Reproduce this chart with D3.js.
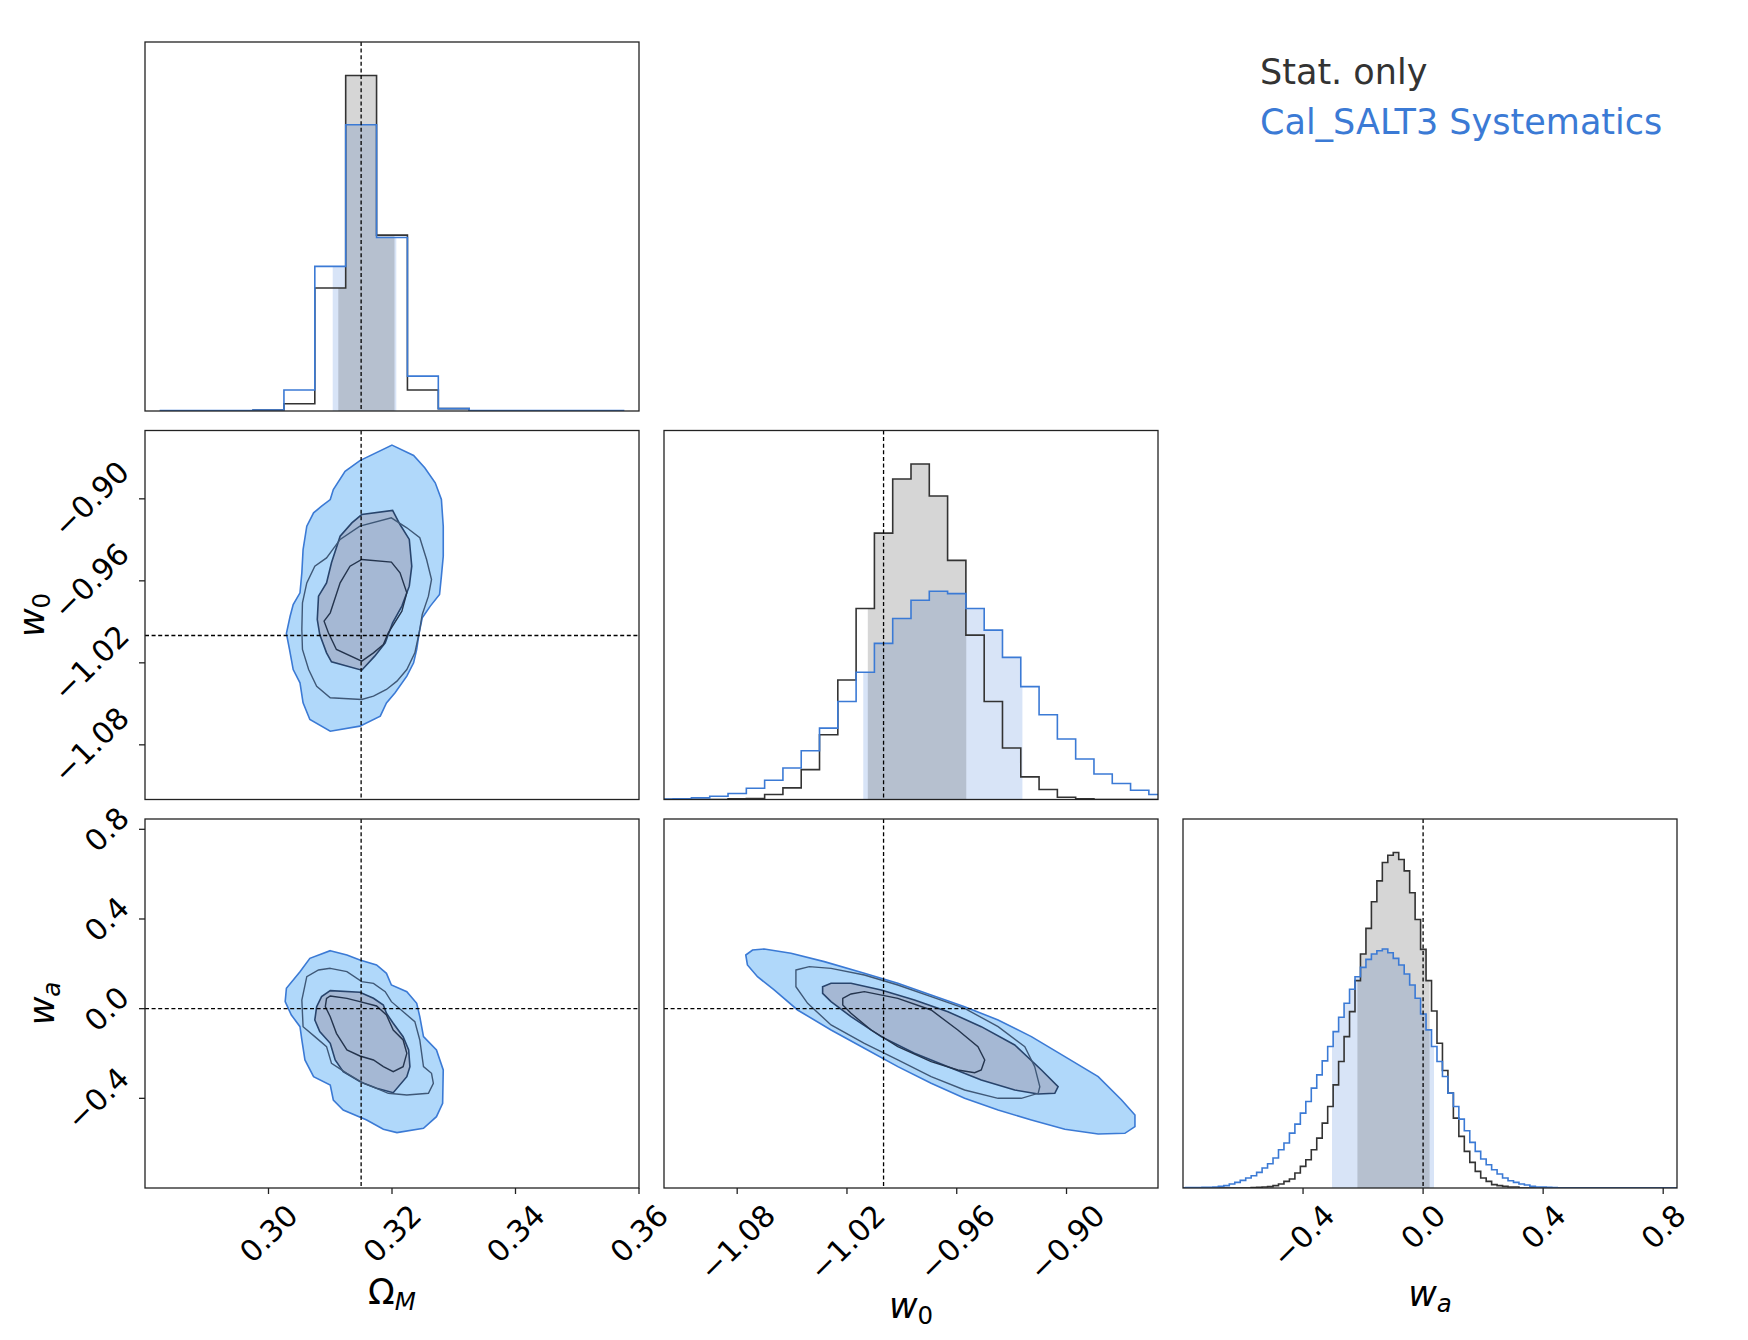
<!DOCTYPE html>
<html>
<head>
  <meta charset="utf-8">
  <title>corner</title>
  <script src="https://d3js.org/d3.v7.min.js"></script>
  <style>
    body { margin: 0; background: #fff; }
    text { font-family: "DejaVu Sans", sans-serif; }
  </style>
</head>
<body>
  <svg width="1748" height="1340" id="mainsvg"></svg>
  <script>
    // axis ranges and true values (Omega_M, w0, wa)
    const omRange = [0.28, 0.36];
    const w0Range = [-1.12, -0.85];
    const waRange = [-0.80, 0.846];
    const truth = [0.315, -1.0, 0.0];

    const omTicks = [0.30, 0.32, 0.34, 0.36];
    const w0Ticks = [-1.08, -1.02, -0.96, -0.90];
    const waTicks = [-0.4, 0.0, 0.4, 0.8];

    const legendNames = ['Stat. only', 'Cal_SALT3 Systematics'];

    // 1D histograms (relative heights), bins = start + k*width
    const omBins = [0.2825, 0.005];
    const omStat = [0, 0, 0, 3, 22, 370, 1009, 529, 63, 7, 0, 0, 0, 0, 0];
    const omSyst = [1, 1, 1, 3, 63, 435, 861, 522, 105, 7, 1, 1, 1, 1, 1];

    const w0Bins = [-1.125, 0.01];
    const w0Stat = [0, 0, 0, 0, 2, 3, 15, 35, 90, 195, 360, 575, 802, 965, 1010, 914, 720, 495, 295, 155, 68, 30, 7, 2, 0, 0, 0, 0];
    const w0Syst = [1, 2, 5, 10, 18, 34, 58, 95, 147, 215, 295, 383, 470, 545, 600, 627, 620, 575, 510, 428, 340, 255, 182, 122, 77, 48, 28, 15];

    const waBins = [-0.8096, 0.01821];
    const waStat = [0, 0, 0, 0, 0, 0, 0, 0, 0, 0, 0, 0, 0,
      1, 2, 3, 4, 7, 12, 20, 27, 45, 65, 85, 115, 150, 195, 245, 310, 380, 455, 530, 623, 703, 780, 860, 923, 978,
      1000, 1008, 987, 953, 887, 807, 717, 623, 532, 435, 353, 285, 210, 155, 110, 77, 50, 30, 20, 10, 7, 5, 3, 3,
      0, 0, 0, 0, 0, 0, 0, 0, 0, 0, 0, 0, 0, 0, 0, 0, 0, 0, 0, 0, 0, 0, 0, 0, 0, 0, 0, 0, 0];
    const waSyst = [0, 1, 1, 1, 2, 2, 3, 5, 7, 12, 17, 23, 30, 37, 47, 60, 73, 90, 115, 135, 165, 192, 225, 260, 300,
      340, 382, 425, 470, 513, 555, 597, 635, 663, 687, 703, 713, 718, 707, 690, 670, 643, 610, 570, 523, 475, 425,
      380, 335, 285, 245, 207, 172, 137, 110, 87, 70, 55, 42, 30, 22, 17, 12, 9, 5, 3, 3, 2, 1,
      0, 0, 0, 0, 0, 0, 0, 0, 0, 0, 0, 0, 0, 0, 0, 0, 0, 0, 0, 0, 0, 0];

    // shaded credible intervals
    const omStatBand = [0.3113, 0.3204];
    const omSystBand = [0.3104, 0.3207];
    const w0StatBand = [-1.0086, -0.9548];
    const w0SystBand = [-1.0111, -0.9241];
    const waStatBand = [-0.2188, 0.0217];
    const waSystBand = [-0.3034, 0.0362];

    // 2D contours: outer (filled light), mid (line), inner (filled dark), core (line)
    const omW0Outer = [[0.3200,-0.8607],[0.3235,-0.8683],[0.3253,-0.8773],[0.3270,-0.8883],[0.3280,-0.9005],[0.3283,-0.9200],[0.3283,-0.9420],[0.3280,-0.9566],[0.3277,-0.9700],[0.3262,-0.9785],[0.3249,-0.9871],[0.3244,-0.9980],[0.3240,-1.0102],[0.3235,-1.0200],[0.3224,-1.0297],[0.3205,-1.0419],[0.3191,-1.0493],[0.3181,-1.0590],[0.3148,-1.0663],[0.3100,-1.0700],[0.3067,-1.0615],[0.3056,-1.0493],[0.3051,-1.0346],[0.3040,-1.0249],[0.3034,-1.0102],[0.3029,-0.9985],[0.3035,-0.9859],[0.3040,-0.9773],[0.3051,-0.9688],[0.3054,-0.9541],[0.3056,-0.9371],[0.3062,-0.9200],[0.3073,-0.9102],[0.3086,-0.9054],[0.3100,-0.9005],[0.3105,-0.8932],[0.3124,-0.8798],[0.3148,-0.8720]];
    const omW0Mid = [[0.3199,-0.9139],[0.3224,-0.9212],[0.3245,-0.9285],[0.3256,-0.9444],[0.3264,-0.9590],[0.3259,-0.9712],[0.3249,-0.9846],[0.3244,-0.9980],[0.3237,-1.0127],[0.3224,-1.0249],[0.3208,-1.0334],[0.3191,-1.0395],[0.3170,-1.0444],[0.3151,-1.0468],[0.3100,-1.0456],[0.3078,-1.0371],[0.3065,-1.0249],[0.3055,-1.0102],[0.3054,-0.9956],[0.3055,-0.9761],[0.3062,-0.9615],[0.3075,-0.9493],[0.3094,-0.9432],[0.3116,-0.9297],[0.3148,-0.9200]];
    const omW0Inner = [[0.3201,-0.9085],[0.3213,-0.9188],[0.3228,-0.9297],[0.3232,-0.9493],[0.3228,-0.9639],[0.3216,-0.9785],[0.3201,-0.9907],[0.3189,-1.0054],[0.3172,-1.0151],[0.3151,-1.0254],[0.3102,-1.0193],[0.3094,-1.0127],[0.3083,-0.9993],[0.3079,-0.9883],[0.3081,-0.9712],[0.3094,-0.9615],[0.3102,-0.9468],[0.3116,-0.9273],[0.3135,-0.9176],[0.3151,-0.9115]];
    const omW0Core = [[0.3151,-0.9444],[0.3199,-0.9463],[0.3213,-0.9541],[0.3224,-0.9688],[0.3216,-0.9822],[0.3194,-0.9980],[0.3186,-1.0066],[0.3170,-1.0127],[0.3151,-1.0188],[0.3110,-1.0102],[0.3097,-0.9980],[0.3090,-0.9895],[0.3100,-0.9834],[0.3116,-0.9615],[0.3132,-0.9493]];

    const omWaOuter = [[0.3100,0.2587],[0.3127,0.2394],[0.3148,0.2171],[0.3175,0.1948],[0.3191,0.1576],[0.3199,0.1056],[0.3224,0.0758],[0.3240,0.0238],[0.3245,-0.0357],[0.3251,-0.1249],[0.3272,-0.1843],[0.3283,-0.2736],[0.3282,-0.4222],[0.3272,-0.4817],[0.3251,-0.5337],[0.3208,-0.5531],[0.3186,-0.5382],[0.3159,-0.4966],[0.3121,-0.4520],[0.3105,-0.4074],[0.3100,-0.3405],[0.3073,-0.3033],[0.3059,-0.2290],[0.3054,-0.1397],[0.3051,-0.0803],[0.3037,-0.0282],[0.3027,0.0312],[0.3029,0.0907],[0.3051,0.1650],[0.3067,0.2245]];
    const omWaMid = [[0.3100,0.1799],[0.3127,0.1650],[0.3151,0.1204],[0.3170,0.1130],[0.3189,0.0758],[0.3199,0.0312],[0.3221,-0.0208],[0.3237,-0.0580],[0.3245,-0.1397],[0.3251,-0.2587],[0.3264,-0.2884],[0.3267,-0.3330],[0.3259,-0.3776],[0.3224,-0.3851],[0.3194,-0.3776],[0.3175,-0.3553],[0.3154,-0.3330],[0.3127,-0.2884],[0.3102,-0.2438],[0.3094,-0.1695],[0.3075,-0.1249],[0.3056,-0.0803],[0.3054,0.0387],[0.3062,0.1427],[0.3081,0.1725]];
    const omWaInner = [[0.3100,0.0803],[0.3148,0.0729],[0.3170,0.0461],[0.3186,0.0164],[0.3191,-0.0208],[0.3202,-0.0654],[0.3218,-0.1249],[0.3227,-0.1843],[0.3229,-0.2587],[0.3224,-0.3033],[0.3202,-0.3747],[0.3175,-0.3553],[0.3148,-0.3256],[0.3121,-0.2810],[0.3108,-0.2290],[0.3100,-0.1546],[0.3083,-0.1026],[0.3075,-0.0505],[0.3078,0.0089],[0.3086,0.0535]];
    const omWaCore = [[0.3100,0.0565],[0.3127,0.0461],[0.3148,0.0312],[0.3175,0.0119],[0.3191,-0.0282],[0.3202,-0.0951],[0.3218,-0.1397],[0.3224,-0.1992],[0.3218,-0.2587],[0.3202,-0.2810],[0.3186,-0.2587],[0.3170,-0.2290],[0.3148,-0.2111],[0.3127,-0.1843],[0.3110,-0.1100],[0.3100,-0.0357],[0.3092,0.0089],[0.3094,0.0461]];

    const w0WaOuter = [[-1.0753,0.2394],[-1.0716,0.2617],[-1.0652,0.2662],[-1.0506,0.2468],[-1.0324,0.2097],[-1.0105,0.1576],[-0.9922,0.1130],[-0.9740,0.0610],[-0.9557,0.0089],[-0.9374,-0.0505],[-0.9192,-0.1249],[-0.9009,-0.2141],[-0.8827,-0.3033],[-0.8699,-0.4074],[-0.8626,-0.4743],[-0.8626,-0.5263],[-0.8681,-0.5560],[-0.8827,-0.5590],[-0.9009,-0.5382],[-0.9192,-0.4966],[-0.9374,-0.4520],[-0.9557,-0.3999],[-0.9740,-0.3330],[-0.9922,-0.2587],[-1.0105,-0.1769],[-1.0287,-0.0951],[-1.0470,-0.0059],[-1.0598,0.0833],[-1.0689,0.1427],[-1.0744,0.1948]];
    const w0WaMid = [[-1.0479,0.1725],[-1.0406,0.1874],[-1.0287,0.1799],[-1.0105,0.1502],[-0.9922,0.1056],[-0.9740,0.0535],[-0.9557,0.0015],[-0.9374,-0.0803],[-0.9228,-0.1695],[-0.9174,-0.2587],[-0.9146,-0.3479],[-0.9155,-0.3776],[-0.9247,-0.3999],[-0.9374,-0.3999],[-0.9557,-0.3628],[-0.9740,-0.3033],[-0.9922,-0.2290],[-1.0105,-0.1546],[-1.0287,-0.0728],[-1.0415,0.0238],[-1.0479,0.0981]];
    const w0WaInner = [[-1.0333,0.0981],[-1.0287,0.1130],[-1.0178,0.1130],[-1.0013,0.0833],[-0.9831,0.0387],[-0.9648,-0.0134],[-0.9466,-0.0803],[-0.9283,-0.1620],[-0.9137,-0.2736],[-0.9046,-0.3479],[-0.9064,-0.3776],[-0.9155,-0.3806],[-0.9283,-0.3628],[-0.9466,-0.3182],[-0.9648,-0.2587],[-0.9831,-0.1992],[-1.0013,-0.1249],[-1.0178,-0.0357],[-1.0287,0.0312],[-1.0333,0.0684]];
    const w0WaCore = [[-1.0223,0.0461],[-1.0178,0.0654],[-1.0105,0.0758],[-0.9922,0.0461],[-0.9740,-0.0059],[-0.9594,-0.0951],[-0.9484,-0.1695],[-0.9447,-0.2290],[-0.9466,-0.2736],[-0.9502,-0.2855],[-0.9594,-0.2736],[-0.9740,-0.2364],[-0.9922,-0.1695],[-1.0068,-0.0951],[-1.0178,-0.0208],[-1.0223,0.0164]];

    const statColor = '#333333';
    const systColor = '#3b7ad5';

    const svg = d3.select('#mainsvg');
    const defs = svg.append('defs');
    const margin = { left: 145, top: 42 };
    const pw = 494, ph = 369, gapX = 25, gapY = 19.5;
    const tickFs = 30, labelFs = 35;

    const ranges = [omRange, w0Range, waRange];
    const xs = ranges.map(r => d3.scaleLinear().domain(r).range([0, pw]));
    const ys = ranges.map(r => d3.scaleLinear().domain(r).range([ph, 0]));
    const px = j => margin.left + j * (pw + gapX);
    const py = i => margin.top + i * (ph + gapY);

    const panel = function (i, j) {
      const id = `clip${i}${j}`;
      defs.append('clipPath').attr('id', id).append('rect').attr('width', pw).attr('height', ph);
      const g = svg.append('g').attr('transform', `translate(${px(j)},${py(i)})`);
      const inner = g.append('g').attr('clip-path', `url(#${id})`);
      return { g, inner };
    };

    const dashV = (sel, x) => sel.append('line').attr('x1', x).attr('x2', x).attr('y1', 0).attr('y2', ph)
      .attr('stroke', '#000').attr('stroke-width', 1.3).attr('stroke-dasharray', '4,2.6');
    const dashH = (sel, y) => sel.append('line').attr('x1', 0).attr('x2', pw).attr('y1', y).attr('y2', y)
      .attr('stroke', '#000').attr('stroke-width', 1.3).attr('stroke-dasharray', '4,2.6');
    const frame = g => g.append('rect').attr('width', pw).attr('height', ph)
      .attr('fill', 'none').attr('stroke', '#222').attr('stroke-width', 1.3);

    // step outline of a histogram
    const stepPts = function (bins, vals) {
      const pts = [[bins[0], 0]];
      vals.forEach((v, k) => {
        pts.push([bins[0] + k * bins[1], v]);
        pts.push([bins[0] + (k + 1) * bins[1], v]);
      });
      pts.push([bins[0] + vals.length * bins[1], 0]);
      return pts;
    };

    const histPanel = function (k, bins, statVals, systVals, statBand, systBand) {
      const { g, inner } = panel(k, k);
      const x = xs[k];
      const y = d3.scaleLinear().domain([0, 1.1 * d3.max(statVals.concat(systVals))]).range([ph, 0]);
      const line = d3.line().x(d => x(d[0])).y(d => y(d[1]));
      const area = d3.area().x(d => x(d[0])).y0(ph).y1(d => y(d[1]));

      [[systVals, systBand, systColor], [statVals, statBand, statColor]].forEach(([vals, band, col], n) => {
        const cid = `band${k}${n}`;
        defs.append('clipPath').attr('id', cid).append('rect')
          .attr('x', x(band[0])).attr('width', x(band[1]) - x(band[0])).attr('height', ph);
        inner.append('path').attr('d', area(stepPts(bins, vals)))
          .attr('fill', col).attr('fill-opacity', 0.2).attr('clip-path', `url(#${cid})`);
      });
      inner.append('path').attr('d', line(stepPts(bins, statVals)))
        .attr('fill', 'none').attr('stroke', statColor).attr('stroke-width', 1.6);
      inner.append('path').attr('d', line(stepPts(bins, systVals)))
        .attr('fill', 'none').attr('stroke', systColor).attr('stroke-width', 1.6);
      dashV(inner, x(truth[k]));
      frame(g);
    };

    const contourPanel = function (i, j, outer, mid, innerC, core) {
      const { g, inner } = panel(i, j);
      const x = xs[j], y = ys[i];
      const line = d3.line().x(d => x(d[0])).y(d => y(d[1])).curve(d3.curveLinearClosed);
      inner.append('path').attr('d', line(outer)).attr('fill', '#b0d8fa')
        .attr('stroke', systColor).attr('stroke-width', 1.6);
      inner.append('path').attr('d', line(innerC)).attr('fill', '#a5b8d4')
        .attr('stroke', '#28446c').attr('stroke-width', 1.6);
      inner.append('path').attr('d', line(mid)).attr('fill', 'none')
        .attr('stroke', '#3f5877').attr('stroke-width', 1.4);
      inner.append('path').attr('d', line(core)).attr('fill', 'none')
        .attr('stroke', '#24344d').attr('stroke-width', 1.4);
      dashV(inner, x(truth[j]));
      dashH(inner, y(truth[i]));
      frame(g);
    };

    histPanel(0, omBins, omStat, omSyst, omStatBand, omSystBand);
    histPanel(1, w0Bins, w0Stat, w0Syst, w0StatBand, w0SystBand);
    histPanel(2, waBins, waStat, waSyst, waStatBand, waSystBand);
    contourPanel(1, 0, omW0Outer, omW0Mid, omW0Inner, omW0Core);
    contourPanel(2, 0, omWaOuter, omWaMid, omWaInner, omWaCore);
    contourPanel(2, 1, w0WaOuter, w0WaMid, w0WaInner, w0WaCore);

    // ticks with 45 degree labels
    const tickSets = [omTicks, w0Ticks, waTicks];
    const fmts = [d3.format('.2f'), d3.format('.2f'), d3.format('.1f')];
    const tickLen = 6, tickGap = 14;

    const rotLabel = function (str) {
      const t = svg.append('text').text(str).attr('font-size', tickFs)
        .attr('text-anchor', 'middle').attr('fill', '#000');
      const w = t.node().getComputedTextLength();
      return { t, ext: (w + 0.73 * tickFs) / Math.SQRT2 };
    };

    [0, 1, 2].forEach(j => {
      const yAxis = py(2) + ph;
      tickSets[j].forEach(v => {
        const xp = px(j) + xs[j](v);
        svg.append('line').attr('x1', xp).attr('x2', xp).attr('y1', yAxis).attr('y2', yAxis + tickLen)
          .attr('stroke', '#222').attr('stroke-width', 1.3);
        const { t, ext } = rotLabel(fmts[j](v));
        const cy = yAxis + tickGap + ext / 2;
        t.attr('x', xp).attr('y', cy).attr('dy', '0.36em').attr('transform', `rotate(-45,${xp},${cy})`);
      });
    });

    [1, 2].forEach(i => {
      const xAxis = px(0);
      tickSets[i].forEach(v => {
        const yp = py(i) + ys[i](v);
        svg.append('line').attr('x1', xAxis - tickLen).attr('x2', xAxis).attr('y1', yp).attr('y2', yp)
          .attr('stroke', '#222').attr('stroke-width', 1.3);
        const { t, ext } = rotLabel(fmts[i](v));
        const cx = xAxis - tickGap - ext / 2;
        t.attr('x', cx).attr('y', yp).attr('dy', '0.36em').attr('transform', `rotate(-45,${cx},${yp})`);
      });
    });

    // axis labels
    const mathLabel = function (parts) {
      const t = svg.append('text').attr('font-size', labelFs).attr('text-anchor', 'middle').attr('fill', '#000');
      parts.forEach(p => {
        const s = t.append('tspan').text(p.s);
        if (p.it) s.attr('font-style', 'italic');
        if (p.sub) s.attr('font-size', labelFs * 0.7).attr('dy', 6);
      });
      return t;
    };
    const omLabel = [{ s: 'Ω' }, { s: 'M', it: true, sub: true }];
    const w0Label = [{ s: 'w', it: true }, { s: '0', sub: true }];
    const waLabel = [{ s: 'w', it: true }, { s: 'a', it: true, sub: true }];

    mathLabel(omLabel).attr('x', px(0) + pw / 2).attr('y', 1304);
    mathLabel(w0Label).attr('x', px(1) + pw / 2).attr('y', 1318);
    mathLabel(waLabel).attr('x', px(2) + pw / 2).attr('y', 1306);
    mathLabel(w0Label).attr('transform', `translate(44,${py(1) + ph / 2}) rotate(-90)`);
    mathLabel(waLabel).attr('transform', `translate(54,${py(2) + ph / 2}) rotate(-90)`);

    // legend
    [statColor, systColor].forEach((c, n) => {
      svg.append('text').attr('x', 1260).attr('y', 84 + n * 50).attr('font-size', labelFs)
        .attr('fill', c).text(legendNames[n]);
    });
  </script>
</body>
</html>
